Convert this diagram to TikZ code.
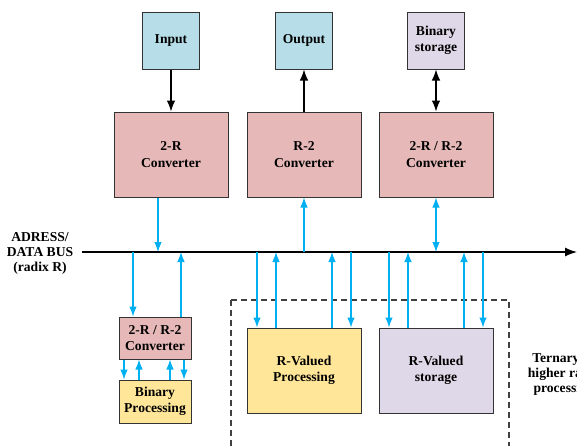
\documentclass[tikz,border=0pt]{standalone}
\usepackage{fontspec}
\setmainfont{Liberation Serif}
\usetikzlibrary{arrows.meta}
\definecolor{inblue}{HTML}{B7DDE8}
\definecolor{convpink}{HTML}{E6B9B8}
\definecolor{storlilac}{HTML}{DFD8E8}
\definecolor{procyellow}{HTML}{FFE699}
\definecolor{buscyan}{HTML}{00B0F0}
\tikzset{
  blk/.style={draw=black!80,line width=1pt,align=center,inner sep=0pt,
    font=\fontsize{13.6}{16.5}\selectfont\bfseries},
  sqbox/.style={blk,minimum width=57pt,minimum height=57pt},
  bigbox/.style={blk,minimum width=114pt,minimum height=85pt},
  smallbox/.style={blk,minimum width=72pt,minimum height=42pt},
  barrow/.style={buscyan,line width=1.1pt,-{Latex[length=10pt,width=7.5pt]}},
  bdarrow/.style={buscyan,line width=1.1pt,{Latex[length=10pt,width=7.5pt]}-{Latex[length=10pt,width=7.5pt]}},
  karrow/.style={black,line width=1.1pt,-{Latex[length=11pt,width=8.5pt]}},
  kdarrow/.style={black,line width=1.1pt,{Latex[length=11pt,width=8.5pt]}-{Latex[length=11pt,width=8.5pt]}},
  lbl/.style={align=center,font=\fontsize{13.6}{15}\selectfont\bfseries}
}
\begin{document}
\begin{tikzpicture}[x=1pt,y=-1pt]
\useasboundingbox (0,0) rectangle (577,445);
\clip (0,0) rectangle (577,445);
% top row
\node[sqbox,fill=inblue] (input) at (171,40.5) {Input};
\node[sqbox,fill=inblue] (output) at (304,40.5) {Output};
\node[sqbox,fill=storlilac] (binstor) at (436,40.5) {Binary\\storage};
\node[bigbox,fill=convpink] (convtr) at (171,154.5) {2-R\\Converter};
\node[bigbox,fill=convpink] (convrt) at (304,154.5) {R-2\\Converter};
\node[bigbox,fill=convpink] (convbi) at (436,154.5) {2-R / R-2\\Converter};
\draw[karrow] (input) -- (convtr);
\draw[karrow] (convrt) -- (output);
\draw[kdarrow] (binstor) -- (convbi);
% bus
\coordinate (busL) at (82,252);
\coordinate (busR) at (577,252);
\draw[line width=1.3pt,-{Latex[length=12pt,width=9pt]}] (busL) -- (busR);
\node[lbl] (buslbl) at (40,253) {ADRESS/\\DATA BUS\\(radix R)};
\draw[barrow] ([xshift=-13pt]convtr.south) -- ([xshift=-13pt]convtr.south |- busL);
\draw[barrow] (convrt.south |- busL) -- (convrt.south);
\draw[bdarrow] (convbi.south |- busL) -- (convbi.south);
% binary side
\node[smallbox,fill=convpink] (convsm) at (155,338) {2-R / R-2\\Converter};
\node[smallbox,minimum height=43pt,fill=procyellow] (binproc) at (155,401.5) {Binary\\Processing};
\draw[barrow] ([xshift=-22pt]convsm.north |- busL) -- ([xshift=-22pt]convsm.north);
\draw[barrow] ([xshift=26pt]convsm.north) -- ([xshift=26pt]convsm.north |- busL);
\foreach \dx in {-31,29}
  \draw[barrow] ([xshift=\dx pt]convsm.south) -- ([xshift=\dx pt]binproc.north);
\foreach \dx in {-16,15}
  \draw[barrow] ([xshift=\dx pt]binproc.north) -- ([xshift=\dx pt]convsm.south);
% R-valued side
\draw[black!75,line width=1.1pt,dash pattern=on 6pt off 4pt] (231,300) rectangle (509,460);
\node[bigbox,fill=procyellow] (rproc) at (304,370.5) {R-Valued\\Processing};
\node[bigbox,fill=storlilac] (rstor) at (436,370.5) {R-Valued\\storage};
\foreach \n in {rproc,rstor} {
  \foreach \dx in {-47,47}
    \draw[barrow] ([xshift=\dx pt]\n.north |- busL) -- ([xshift=\dx pt]\n.north);
  \foreach \dx in {-28,28}
    \draw[barrow] ([xshift=\dx pt]\n.north) -- ([xshift=\dx pt]\n.north |- busL);
}
\node[lbl] (ternlbl) at (564,375) {Ternary or\\higher radix\\processing};
\end{tikzpicture}
\end{document}
